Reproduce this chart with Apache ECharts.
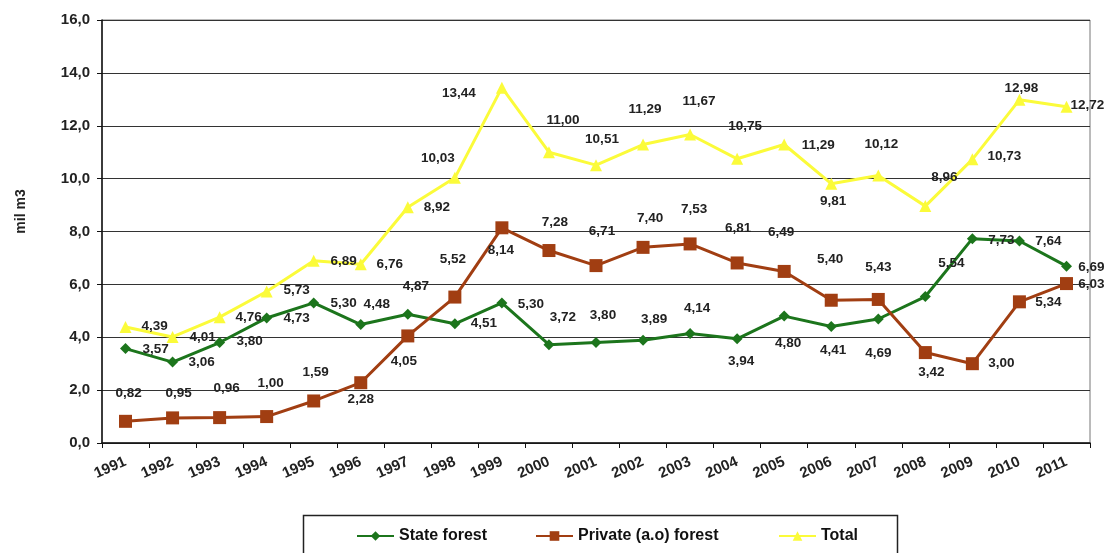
<!DOCTYPE html>
<html>
<head>
<meta charset="utf-8">
<script src="https://cdn.jsdelivr.net/npm/echarts@6/dist/echarts.min.js"></script>
<style>
  html, body { margin: 0; padding: 0; background: #fff; }
  #chart { width: 1111px; height: 553px; }
</style>
</head>
<body>
<div id="chart"></div>
<script>
// Harvested timber volume, million m3
const years = ['1991', '1992', '1993', '1994', '1995', '1996', '1997', '1998', '1999', '2000',
  '2001', '2002', '2003', '2004', '2005', '2006', '2007', '2008', '2009', '2010', '2011'];
const stateForest = [3.57, 3.06, 3.80, 4.73, 5.30, 4.48, 4.87, 4.51, 5.30, 3.72,
  3.80, 3.89, 4.14, 3.94, 4.80, 4.41, 4.69, 5.54, 7.73, 7.64, 6.69];
const privateForest = [0.82, 0.95, 0.96, 1.00, 1.59, 2.28, 4.05, 5.52, 8.14, 7.28,
  6.71, 7.40, 7.53, 6.81, 6.49, 5.40, 5.43, 3.42, 3.00, 5.34, 6.03];
const totalVolume = [4.39, 4.01, 4.76, 5.73, 6.89, 6.76, 8.92, 10.03, 13.44, 11.00,
  10.51, 11.29, 11.67, 10.75, 11.29, 9.81, 10.12, 8.96, 10.73, 12.98, 12.72];
const seriesNames = ['State forest', 'Private (a.o) forest', 'Total'];

// Where each value label sits relative to its marker (dx, dy in px)
const stateLabelShift = [[30,1],[29,0],[30,-1],[30,0],[30,0],[16,-20],[8,-28],[29,0],[29,1],[14,-27],
  [7,-27],[11,-21],[7,-25],[4,22],[4,27],[2,24],[0,34],[26,-33],[29,2],[29,0],[25,1]];
const privateLabelShift = [[3,-28],[6,-25],[7,-29],[4,-33],[2,-29],[0,17],[-4,25],[-2,-38],[-1,22],[6,-28],
  [6,-34],[7,-29],[4,-35],[1,-35],[-3,-39],[-1,-41],[0,-32],[6,20],[29,0],[29,0],[25,1]];
const totalLabelShift = [[29,-1],[30,0],[29,0],[30,-1],[30,0],[29,0],[29,0],[-17,-20],[-43,6],[14,-32],
  [6,-26],[2,-35],[9,-33],[8,-33],[34,1],[2,18],[3,-31],[19,-29],[32,-3],[2,-12],[21,-1]];

const FONT = '"Liberation Sans", Arial, sans-serif';
const comma = (v, d) => v.toFixed(d).replace('.', ',');

function withLabels(values, shifts) {
  return values.map((v, i) => ({ value: v, label: { offset: shifts[i] } }));
}

const valueLabel = {
  show: true,
  position: 'inside',
  align: 'center',
  verticalAlign: 'middle',
  fontFamily: FONT,
  fontSize: 13.5,
  fontWeight: 'bold',
  color: '#222',
  formatter: p => comma(p.value, 2)
};

function lineSeries(name, values, shifts, color, symbol, size) {
  return {
    name: name,
    type: 'line',
    data: withLabels(values, shifts),
    symbol: symbol,
    symbolSize: size,
    showAllSymbol: true,
    lineStyle: { color: color, width: 3 },
    itemStyle: { color: color },
    label: valueLabel,
    emphasis: { disabled: true }
  };
}

const legendBase = {
  top: 528,
  itemWidth: 37,
  itemHeight: 12,
  itemGap: 0,
  padding: 0,
  textStyle: { fontFamily: FONT, fontSize: 16, fontWeight: 'bold', color: '#111' }
};

const chart = echarts.init(document.getElementById('chart'), null, { renderer: 'canvas' });
chart.setOption({
  animation: false,
  backgroundColor: '#fff',
  grid: {
    left: 102, right: 21, top: 20, bottom: 110,
    show: true, borderColor: '#777', borderWidth: 1
  },
  legend: [
    Object.assign({ left: 356, data: [seriesNames[0]] }, legendBase),
    Object.assign({ left: 535, data: [seriesNames[1]] }, legendBase),
    Object.assign({ left: 778, data: [seriesNames[2]] }, legendBase)
  ],
  graphic: [{
    type: 'rect',
    silent: true,
    shape: { x: 303.5, y: 515.5, width: 594, height: 60 },
    style: { fill: 'none', stroke: '#222', lineWidth: 1.5 }
  }],
  xAxis: {
    type: 'category',
    data: years,
    boundaryGap: true,
    axisLine: { lineStyle: { color: '#111', width: 1.5 } },
    axisTick: { show: true, length: 5, lineStyle: { color: '#111' } },
    axisLabel: {
      interval: 0, rotate: 24, margin: 18,
      fontFamily: FONT, fontSize: 15, fontWeight: 'bold', color: '#222'
    },
    splitLine: { show: false }
  },
  yAxis: {
    type: 'value',
    min: 0, max: 16, interval: 2,
    name: 'mil m3',
    nameLocation: 'middle',
    nameGap: 74,
    nameRotate: 90,
    nameTextStyle: {
      fontFamily: FONT, fontSize: 14, fontWeight: 'bold', color: '#222',
      padding: [0, 0, 0, 40]
    },
    axisLine: { show: true, lineStyle: { color: '#111', width: 1.5 } },
    axisTick: { show: true, length: 5, lineStyle: { color: '#111' } },
    axisLabel: {
      margin: 12, fontFamily: FONT, fontSize: 15, fontWeight: 'bold', color: '#222',
      formatter: v => comma(v, 1)
    },
    splitLine: { show: true, lineStyle: { color: '#333', width: 1 } }
  },
  series: [
    lineSeries(seriesNames[0], stateForest, stateLabelShift, '#1c751c', 'diamond', 11),
    lineSeries(seriesNames[1], privateForest, privateLabelShift, '#a13e12', 'rect', 13),
    lineSeries(seriesNames[2], totalVolume, totalLabelShift, '#fbfb3a', 'triangle', 12)
  ]
});
</script>
</body>
</html>
